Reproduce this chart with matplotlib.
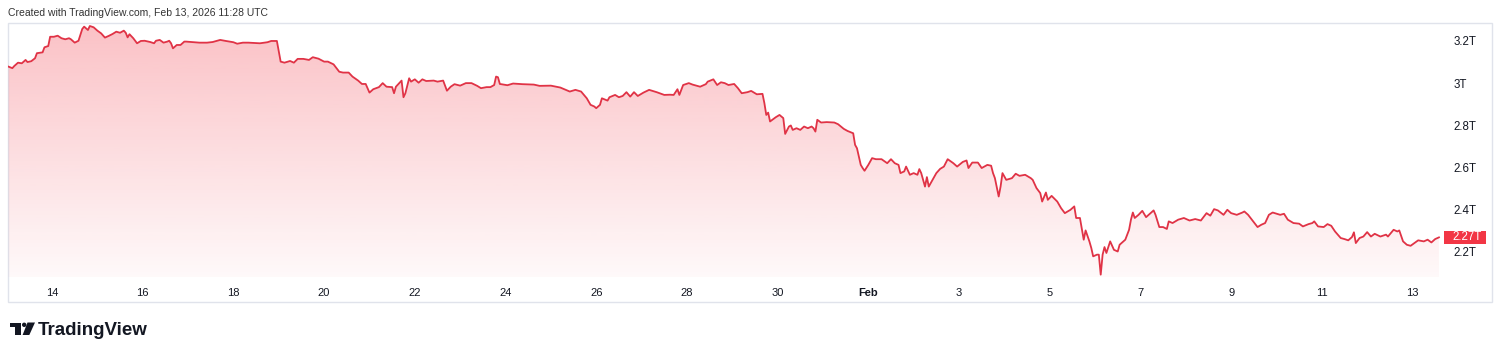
import matplotlib
matplotlib.use("Agg")
import numpy as np
import matplotlib.pyplot as plt
import matplotlib.patches as mpatches
import matplotlib.transforms as mtransforms
from matplotlib.colors import to_rgb

plt.rcParams['font.family'] = ['Liberation Sans', 'DejaVu Sans']

# heures depuis le 13 janv. 2026 00:00 UTC
hours = [
    1, 3, 4, 6, 8, 10, 11, 13, 15, 16, 19, 20, 22, 23, 25, 27, 29, 31, 33, 34,
    36, 38, 40, 41, 43, 44, 46, 48, 50, 52, 54, 56, 58, 60, 62, 63, 64, 65, 67, 69,
    71, 73, 76, 78, 79, 81, 83, 85, 86, 87, 88, 90, 92, 94, 95, 99, 102, 106, 109, 113,
    116, 120, 122, 125, 128, 134, 138, 140, 143, 145, 147, 150, 152, 154, 157, 160, 162, 165, 168, 170,
    173, 176, 178, 181, 183, 186, 188, 190, 192, 194, 197, 199, 201, 204, 205, 206, 209, 210, 211, 213,
    214, 216, 218, 220, 222, 226, 228, 231, 233, 235, 237, 240, 243, 246, 249, 251, 254, 256, 258, 259,
    260, 261, 265, 268, 273, 279, 282, 288, 293, 298, 301, 304, 307, 309, 311, 312, 314, 315, 318, 319,
    322, 324, 326, 328, 330, 332, 334, 337, 340, 344, 348, 351, 353, 355, 356, 358, 361, 363, 367, 370,
    371, 374, 376, 378, 380, 382, 385, 387, 389, 392, 394, 397, 400, 401, 402, 403, 404, 407, 409, 411,
    412, 414, 415, 416, 418, 420, 422, 424, 426, 427, 428, 429, 431, 434, 438, 440, 443, 445, 448, 449,
    450, 452, 453, 454, 456, 458, 460, 463, 466, 468, 470, 472, 473, 475, 476, 478, 480, 482, 483, 484,
    486, 487, 488, 490, 492, 494, 496, 498, 501, 503, 506, 508, 509, 511, 514, 516, 519, 521, 522, 523,
    525, 526, 527, 529, 532, 534, 536, 539, 542, 543, 545, 547, 548, 550, 551, 553, 556, 558, 560, 563,
    565, 566, 568, 570, 571, 573, 574, 575, 577, 578, 579, 580, 581, 582, 584, 586, 588, 589, 592, 594,
    595, 596, 597, 599, 601, 603, 607, 608, 610, 612, 614, 615, 617, 620, 623, 626, 629, 632, 635, 637,
    639, 641, 644, 646, 648, 651, 654, 655, 657, 659, 662, 664, 666, 668, 670, 674, 676, 678, 681, 684,
    686, 689, 691, 692, 694, 697, 699, 701, 703, 706, 708, 710, 712, 713, 714, 716, 718, 720, 722, 724,
    727, 730, 731, 734, 736, 737, 739, 741, 743, 745, 747, 750, 752, 754, 756, 758,
]

# capitalisation (billions de dollars, T)
cap_t = [
    3.078, 3.071, 3.081, 3.097, 3.094, 3.110, 3.100, 3.104, 3.118, 3.142, 3.146, 3.170, 3.176, 3.220, 3.220, 3.225, 3.213, 3.208, 3.213, 3.208,
    3.192, 3.201, 3.257, 3.268, 3.252, 3.271, 3.265, 3.249, 3.236, 3.216, 3.224, 3.233, 3.244, 3.239, 3.249, 3.239, 3.217, 3.232, 3.213, 3.189,
    3.200, 3.201, 3.195, 3.189, 3.201, 3.205, 3.192, 3.197, 3.201, 3.189, 3.165, 3.181, 3.181, 3.197, 3.197, 3.194, 3.192, 3.192, 3.195, 3.205,
    3.200, 3.194, 3.187, 3.192, 3.192, 3.189, 3.194, 3.200, 3.200, 3.102, 3.097, 3.105, 3.097, 3.115, 3.115, 3.110, 3.123, 3.116, 3.102, 3.102,
    3.089, 3.054, 3.050, 3.050, 3.031, 3.012, 2.996, 2.996, 2.955, 2.971, 2.981, 3.000, 2.983, 2.981, 2.952, 2.983, 3.012, 2.933, 2.952, 3.023,
    3.007, 3.018, 3.002, 3.018, 3.010, 3.012, 3.007, 3.012, 2.964, 2.983, 2.995, 2.988, 3.000, 3.000, 2.987, 2.976, 2.981, 2.981, 2.991, 3.031,
    3.028, 2.996, 2.990, 2.998, 2.995, 2.993, 2.987, 2.988, 2.979, 2.960, 2.968, 2.960, 2.928, 2.897, 2.889, 2.881, 2.897, 2.928, 2.917, 2.933,
    2.944, 2.933, 2.939, 2.957, 2.936, 2.957, 2.939, 2.955, 2.968, 2.957, 2.944, 2.945, 2.944, 2.971, 2.944, 2.991, 3.000, 2.993, 2.983, 2.995,
    3.007, 3.018, 2.991, 3.004, 3.000, 2.991, 2.996, 2.976, 2.952, 2.957, 2.963, 2.947, 2.949, 2.905, 2.849, 2.860, 2.818, 2.838, 2.849, 2.834,
    2.759, 2.794, 2.799, 2.778, 2.786, 2.778, 2.794, 2.786, 2.794, 2.786, 2.770, 2.826, 2.813, 2.815, 2.813, 2.805, 2.783, 2.773, 2.762, 2.707,
    2.691, 2.612, 2.597, 2.584, 2.612, 2.644, 2.639, 2.639, 2.620, 2.639, 2.620, 2.612, 2.573, 2.581, 2.604, 2.565, 2.573, 2.565, 2.592, 2.573,
    2.509, 2.554, 2.509, 2.541, 2.573, 2.593, 2.604, 2.639, 2.620, 2.604, 2.626, 2.633, 2.597, 2.623, 2.623, 2.597, 2.612, 2.608, 2.573, 2.549,
    2.462, 2.509, 2.573, 2.541, 2.549, 2.570, 2.560, 2.565, 2.549, 2.541, 2.502, 2.478, 2.438, 2.481, 2.446, 2.465, 2.438, 2.407, 2.383, 2.399,
    2.415, 2.360, 2.360, 2.257, 2.301, 2.249, 2.218, 2.178, 2.186, 2.186, 2.091, 2.186, 2.222, 2.194, 2.249, 2.209, 2.201, 2.233, 2.257, 2.304,
    2.352, 2.386, 2.360, 2.375, 2.394, 2.364, 2.396, 2.375, 2.317, 2.317, 2.308, 2.344, 2.336, 2.352, 2.360, 2.348, 2.355, 2.348, 2.383, 2.371,
    2.402, 2.396, 2.375, 2.399, 2.383, 2.375, 2.386, 2.391, 2.375, 2.352, 2.317, 2.328, 2.336, 2.375, 2.386, 2.375, 2.380, 2.352, 2.336, 2.333,
    2.320, 2.331, 2.336, 2.344, 2.320, 2.317, 2.331, 2.323, 2.296, 2.265, 2.260, 2.254, 2.270, 2.292, 2.241, 2.265, 2.272, 2.293, 2.272, 2.285,
    2.272, 2.281, 2.272, 2.304, 2.296, 2.301, 2.249, 2.233, 2.228, 2.241, 2.254, 2.249, 2.257, 2.244, 2.260, 2.268,
]

# repères de l'axe du temps (heures) et leurs libellés
day_ticks = [24, 72, 120, 168, 216, 264, 312, 360, 408, 456, 504, 552, 600, 648, 696, 744]
day_labels = ["14", "16", "18", "20", "22", "24", "26", "28", "30", "Feb", "3", "5", "7", "9", "11", "13"]
price_ticks = [2.2, 2.4, 2.6, 2.8, 3.0, 3.2]

W, H = 1500, 355
RED = "#F23645"
LINE = "#e03346"
TXT = "#131722"


def px_rect(l, t, r, b):
    # rectangle en pixels (origine en haut à gauche) -> fraction de figure
    return [l / W, 1 - b / H, (r - l) / W, (b - t) / H]


fig = plt.figure(figsize=(W / 100, H / 100), dpi=100)
fig.patch.set_facecolor("white")

# calque pour le cadre et le logo
ov = fig.add_axes([0, 0, 1, 1], zorder=0)
ov.set_xlim(0, W)
ov.set_ylim(H, 0)
ov.axis("off")
ov.add_patch(mpatches.Rectangle((8, 22.5), 1484, 279, fill=False, ec="#e0e3eb", lw=1))

# logo TradingView
ov.add_patch(mpatches.Polygon([(10, 322.5), (20.7, 322.5), (20.7, 335), (15.3, 335), (15.3, 327), (10, 327)],
                              closed=True, fc=TXT, ec="none"))
ov.add_patch(mpatches.Circle((24.2, 324.8), 2.2, fc=TXT, ec="none"))
ov.add_patch(mpatches.Polygon([(27.5, 322.5), (35, 322.5), (29.3, 335), (22.6, 335)],
                              closed=True, fc=TXT, ec="none"))
ov.text(38, 335, "TradingView", va="baseline", ha="left", fontsize=13.5, fontweight="bold", color=TXT)

fig.text(8 / W, 1 - 13 / H, "Created with TradingView.com, Feb 13, 2026 11:28 UTC",
         va="center", ha="left", fontsize=7.5, color="#333333")

# panneau principal
ax = fig.add_axes(px_rect(8, 22, 1445, 277), zorder=1)
ax.set_facecolor("none")
x0, x1 = 0.7, 761.2
y_lo, y_hi = 2.08, 3.29

poly = ax.fill_between(hours, cap_t, y_lo, facecolor="none", edgecolor="none")
grad = np.zeros((256, 1, 4))
grad[..., :3] = to_rgb(RED)
grad[:, 0, 3] = np.linspace(0.31, 0.03, 256)
im = ax.imshow(grad, extent=[x0, x1, y_lo, y_hi], aspect="auto", origin="upper", zorder=1)
im.set_clip_path(poly.get_paths()[0], transform=ax.transData)

ax.plot(hours, cap_t, color=LINE, lw=1.3, zorder=3, solid_joinstyle="round")

ax.set_xlim(x0, x1)
ax.set_ylim(y_lo, y_hi)
for s in ax.spines.values():
    s.set_visible(False)

ax.set_xticks(day_ticks, day_labels)
ax.tick_params(axis="x", length=0, pad=8, labelsize=8, colors=TXT)
for lab in ax.get_xticklabels():
    if lab.get_text() == "Feb":
        lab.set_fontweight("bold")

ax.yaxis.tick_right()
ax.set_yticks(price_ticks, [f"{v:g}T" for v in price_ticks])
ax.tick_params(axis="y", length=0, pad=6, labelsize=8.3, colors=TXT)

# étiquette de la dernière valeur
last = cap_t[-1]
blend = mtransforms.blended_transform_factory(ax.transAxes, ax.transData)
tr = mtransforms.ScaledTranslation(1.0, last, blend)
ax.add_patch(mpatches.Rectangle((-1, -6.8), 42, 13.6, transform=tr, fc=RED, ec="none", clip_on=False, zorder=5))
ax.text(7, 0, f"{last:.2f}T", transform=tr, va="center", ha="left", fontsize=8.3,
        color="white", clip_on=False, zorder=6)

fig.savefig("out.png", dpi=100)
